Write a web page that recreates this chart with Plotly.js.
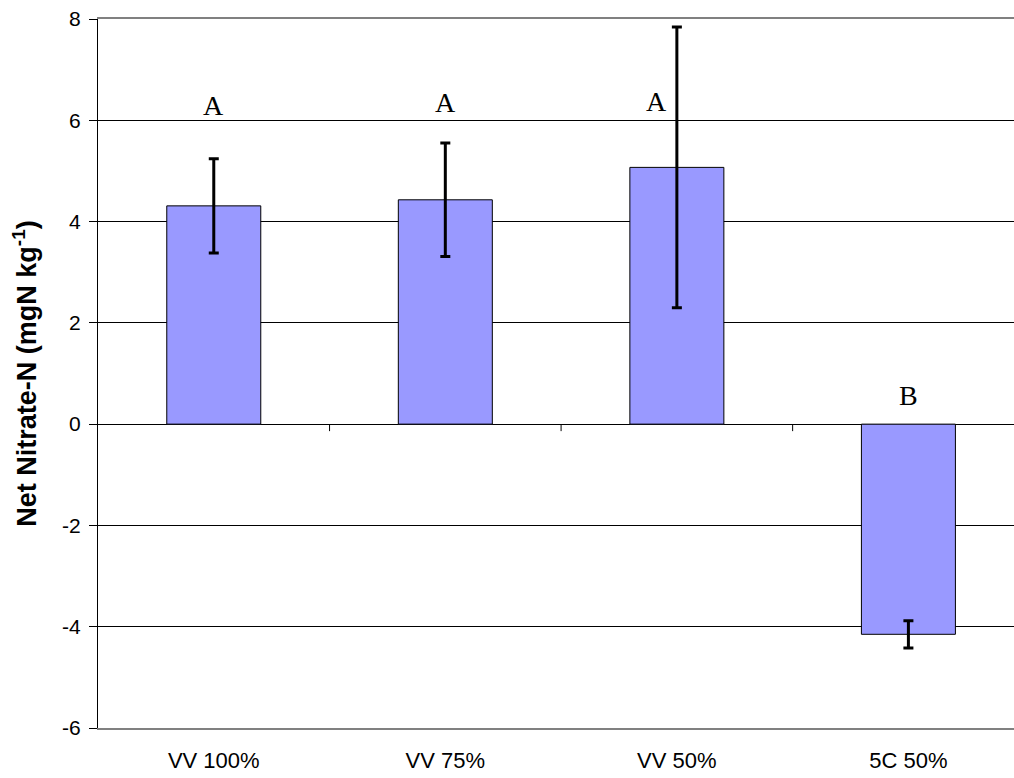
<!DOCTYPE html>
<html>
<head>
<meta charset="utf-8">
<script src="https://cdn.plot.ly/plotly-3.0.1.min.js"></script>
<style>html,body{margin:0;padding:0;background:#fff;}#chart{width:1014px;height:778px;}</style>
</head>
<body>
<div id="chart"></div>
<script>
var categories = ["VV 100%", "VV 75%", "VV 50%", "5C 50%"];
var netNitrate = [4.31, 4.43, 5.07, -4.15];
var errorValues = [0.93, 1.12, 2.77, 0.27];
var groupLetters = ["A", "A", "A", "B"];
var letterLevels = [6.29, 6.36, 6.38, 0.56];
var letterShifts = [0, 0, -20, 0];
var yTicks = [-6, -4, -2, 0, 2, 4, 6, 8];

var trace = {
  type: "bar",
  x: categories,
  y: netNitrate,
  marker: {color: "#9999FF", line: {color: "#000000", width: 1}},
  error_y: {type: "data", array: errorValues, visible: true, color: "#000000", thickness: 3, width: 5},
  hoverinfo: "x+y"
};

var annotations = categories.map(function (c, i) {
  return {
    x: c, y: letterLevels[i], xref: "x", yref: "y",
    text: groupLetters[i], showarrow: false, xshift: letterShifts[i],
    font: {family: "Liberation Serif, Times New Roman, serif", size: 28, color: "#000"}
  };
});

var shapes = [0.5, 1.5, 2.5].map(function (b) {
  return {type: "line", xref: "x", yref: "y", x0: b, x1: b, ysizemode: "pixel", yanchor: 0, y0: 0, y1: -7,
    line: {color: "#000", width: 1}};
});

var layout = {
  width: 1014, height: 778,
  margin: {l: 98, r: 0, t: 19, b: 50},
  paper_bgcolor: "#ffffff", plot_bgcolor: "#ffffff",
  bargap: 0.594,
  showlegend: false,
  font: {family: "Liberation Sans, Arial, sans-serif", color: "#000"},
  xaxis: {
    type: "category",
    range: [-0.5, 3.456],
    showgrid: false, zeroline: false,
    showline: true, mirror: true, linecolor: "#808080", linewidth: 2,
    ticks: "", tickfont: {size: 22, family: "Liberation Sans, Arial, sans-serif"},
    ticklabelstandoff: 12,
    fixedrange: true
  },
  yaxis: {
    range: [-6, 8],
    tickvals: yTicks, ticktext: yTicks.map(String),
    showgrid: true, gridcolor: "#000000", gridwidth: 1,
    zeroline: true, zerolinecolor: "#000000", zerolinewidth: 1,
    showline: true, linecolor: "#000000", linewidth: 1,
    ticks: "outside", ticklen: 8, tickcolor: "#000000", tickwidth: 1,
    tickfont: {size: 21, family: "Liberation Sans, Arial, sans-serif"},
    ticklabelstandoff: 4,
    title: {text: "<b>Net Nitrate-N (mgN kg<sup>-1</sup>)</b>", font: {size: 27, family: "Liberation Sans, Arial, sans-serif"}, standoff: 17},
    fixedrange: true
  },
  annotations: annotations,
  shapes: shapes
};

Plotly.newPlot("chart", [trace], layout, {displayModeBar: false, staticPlot: true});
</script>
</body>
</html>
